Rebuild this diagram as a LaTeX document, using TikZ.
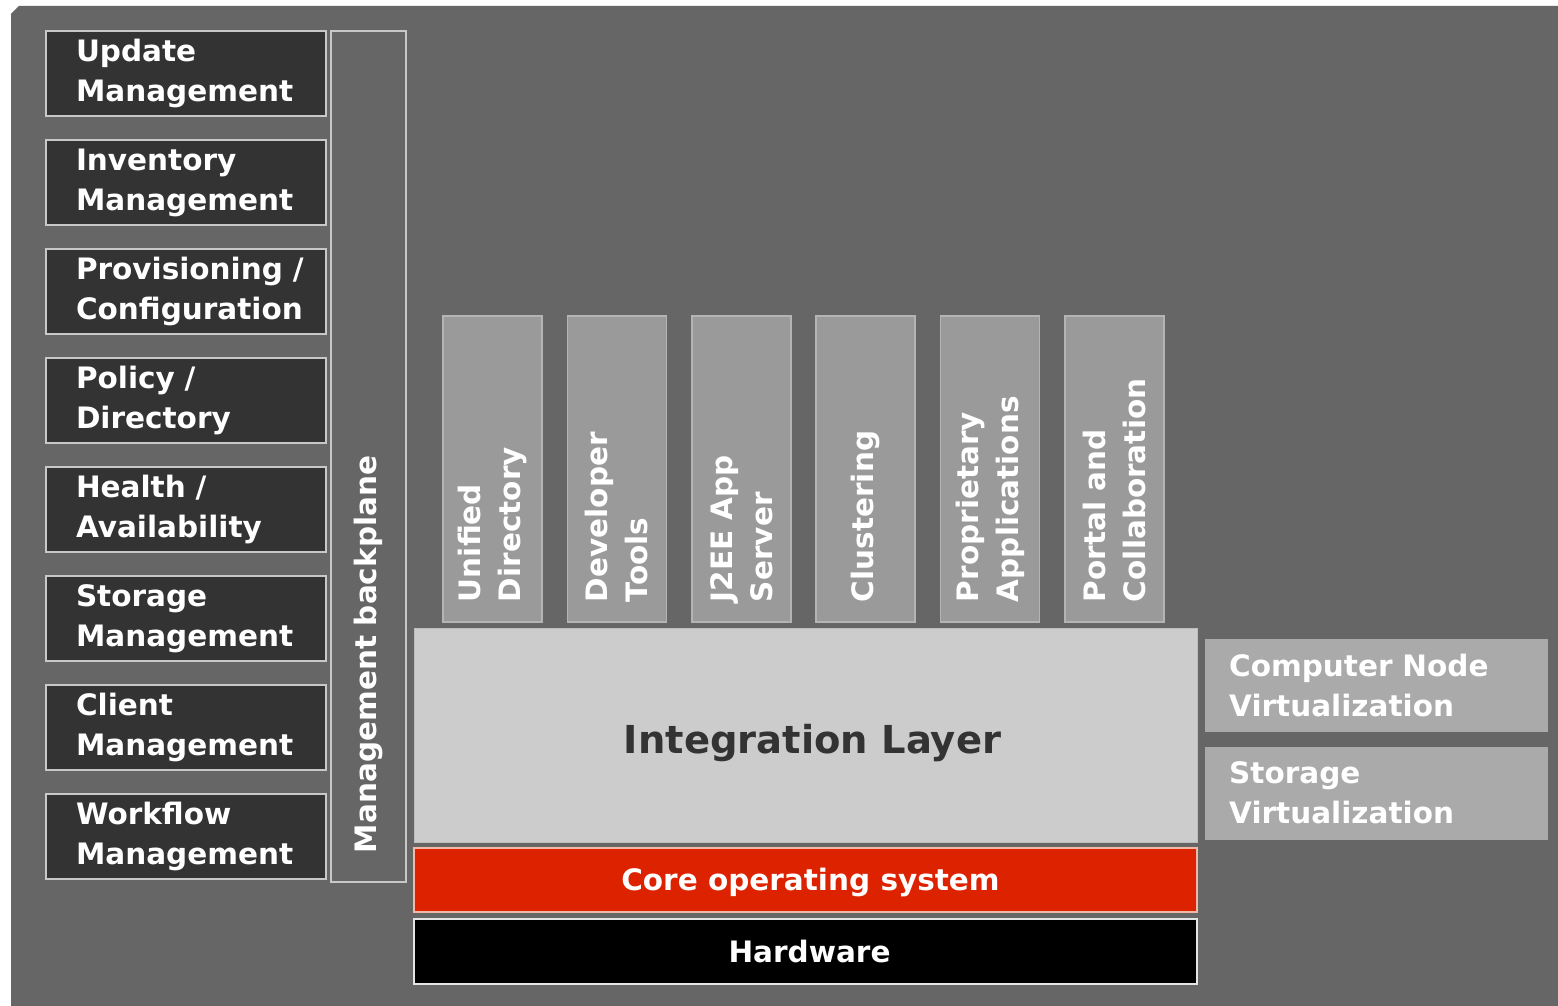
\documentclass[tikz,border=0pt]{standalone}
\usepackage{fontspec}
\setmainfont{DejaVu Sans}
\usetikzlibrary{positioning}

\definecolor{bggray}{HTML}{666666}
\definecolor{darkbox}{HTML}{333333}
\definecolor{boxline}{HTML}{C8C8C8}
\definecolor{colfill}{HTML}{9A9A9A}
\definecolor{colline}{HTML}{B4B4B4}
\definecolor{intfill}{HTML}{CCCCCC}
\definecolor{intline}{HTML}{BDBDBD}
\definecolor{inttext}{HTML}{333333}
\definecolor{virtfill}{HTML}{AAAAAA}
\definecolor{osred}{HTML}{DD2200}
\definecolor{osline}{HTML}{F2B9A6}

\begin{document}
\begin{tikzpicture}[
        x=1pt, y=-1pt,
        node distance=22pt,
        txt/.style={font=\bfseries\fontsize{29.5}{40}\selectfont},
        mgmt/.style={txt, draw=boxline, line width=2pt, fill=darkbox, text=white, minimum height=85pt, text width=220pt, inner xsep=30pt, inner ysep=0pt, align=left},
        backplane/.style={txt, draw=boxline, line width=2pt, fill=bggray, text=white, rotate=90, minimum width=851pt, minimum height=75pt, text width=793pt, inner xsep=29pt, align=left},
        column/.style={txt, draw=colline, line width=1.5pt, fill=colfill, text=white, rotate=90, minimum width=306pt, minimum height=99pt, text width=266pt, inner xsep=20pt, align=left},
        layer/.style={txt, minimum width=783pt, text=white, inner sep=0pt, text depth=0pt},
        virt/.style={txt, fill=virtfill, text=white, minimum height=93pt, text width=295pt, inner xsep=24pt, inner ysep=0pt, align=left}
    ]
        % Background
        \useasboundingbox (0,0) rectangle (1558,1006);
        \fill[white] (0,0) rectangle (1558,1006);
        \fill[bggray] (11,14) -- (19,6) -- (1558,6) -- (1558,1006) -- (11,1006) -- cycle;

        % Management stack
        \node (update) [mgmt, anchor=north west] at (45,30) {Update\\Management};
        \node (inventory) [mgmt, below=of update] {Inventory\\Management};
        \node (provisioning) [mgmt, below=of inventory] {Provisioning~/\\Configuration};
        \node (policy) [mgmt, below=of provisioning] {Policy /\\Directory};
        \node (health) [mgmt, below=of policy] {Health /\\Availability};
        \node (storagemgmt) [mgmt, below=of health] {Storage\\Management};
        \node (client) [mgmt, below=of storagemgmt] {Client\\Management};
        \node (workflow) [mgmt, below=of client] {Workflow\\Management};
        \node (backplane) [backplane] at (368.5,456.5) {Management backplane};

        % Application columns
        \node (unified) [column] at (492.5,469) {Unified\\Directory};
        \node (devtools) [column] at ([xshift=124.4pt]unified.center) {Developer\\Tools};
        \node (j2ee) [column] at ([xshift=124.4pt]devtools.center) {J2EE App\\Server};
        \node (clustering) [column] at ([xshift=124.4pt]j2ee.center) {Clustering};
        \node (proprietary) [column] at ([xshift=124.4pt]clustering.center) {Proprietary\\Applications};
        \node (portal) [column] at ([xshift=124.4pt]proprietary.center) {Portal and\\Collaboration};

        % Layers
        \node (integration) [layer, draw=intline, line width=1pt, fill=intfill, text=inttext, minimum height=214pt, text height=35pt, font=\bfseries\fontsize{38.5}{46}\selectfont] at (805.5,735.5) {\hspace*{14pt}Integration Layer};
        \node (core) [layer, draw=osline, line width=1.5pt, fill=osred, minimum height=64pt, below=4pt of integration] {\hspace*{10pt}Core operating system};
        \node (hardware) [layer, draw=white!90!black, line width=2pt, fill=black, minimum height=65pt, below=5pt of core] {\hspace*{8pt}Hardware};

        % Virtualization
        \node (compnode) [virt, anchor=north west] at (1205,639) {Computer Node\\Virtualization};
        \node (storvirt) [virt, below=14pt of compnode] {Storage\\Virtualization};
    \end{tikzpicture}
\end{document}
